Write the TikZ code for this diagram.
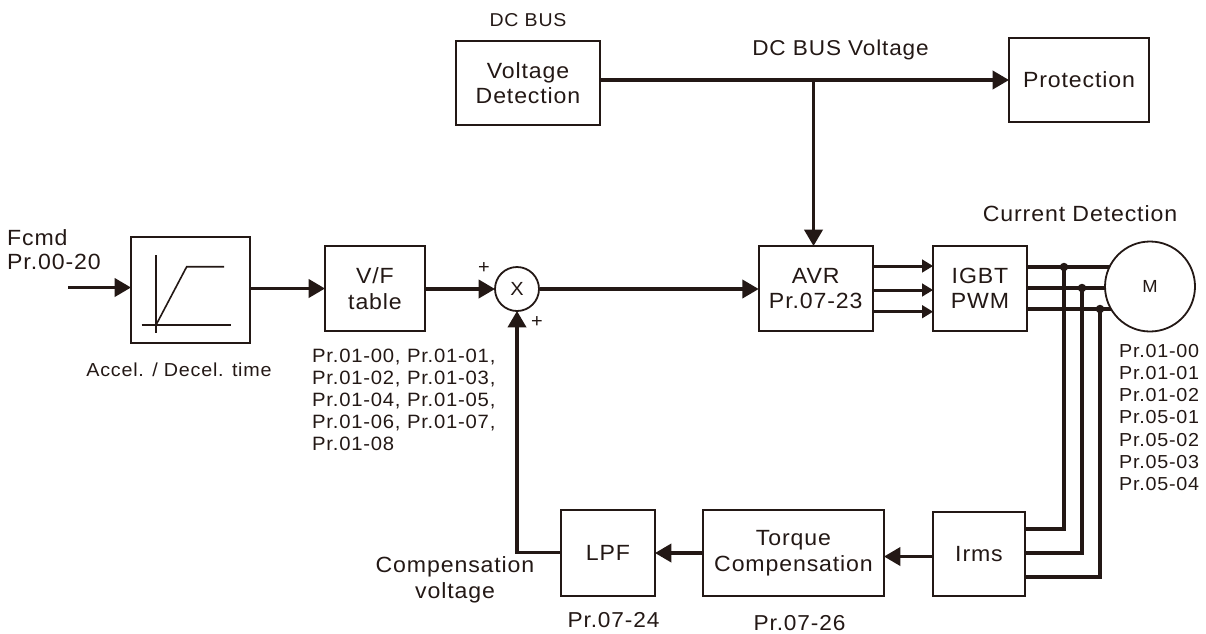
\documentclass[tikz,border=0pt]{standalone}
\usepackage{fontspec}
\setmainfont{Liberation Sans}[LetterSpace=4,FakeStretch=1.05]
\usetikzlibrary{arrows.meta,calc}
\definecolor{ink}{HTML}{231815}
\tikzset{
  blk/.style={draw=ink,line width=1.8pt,fill=white,inner sep=0pt,align=center,font=\fontsize{22}{25.5}\selectfont,text=ink},
  lbl/.style={inner sep=0pt,align=left,text=ink},
  wire/.style={draw=ink,line width=3.9pt},
  thin wire/.style={draw=ink,line width=3pt},
  arr/.style={wire,-{Triangle[length=16.5pt,width=18pt]},shorten >=-1pt},
  thinarr/.style={thin wire,-{Triangle[length=11pt,width=12.5pt]},shorten >=-1pt},
  dot/.style={circle,fill=ink,inner sep=0pt,minimum size=8.5pt},
  ramp/.style={draw=ink,line width=1.6pt}
}
\begin{document}
\begin{tikzpicture}[x=1pt,y=-1pt]
\useasboundingbox (0,0) rectangle (1206,633);
% IGBT to M wires lie under the motor circle
\node[blk,minimum width=94pt,minimum height=85pt] (igbt) at (980,288.5) {IGBT\\PWM};
\coordinate (w1) at (1120,267); \coordinate (w2) at (1120,288); \coordinate (w3) at (1120,309);
\draw[wire,line width=3.6pt] (igbt.east |- w1) -- (w1);
\draw[wire,line width=3.6pt] (igbt.east |- w2) -- (w2);
\draw[wire,line width=3.6pt] (igbt.east |- w3) -- (w3);
% boxes
\node[blk,minimum width=144pt,minimum height=84pt] (vd) at (528,83) {Voltage\\Detection};
\node[blk,minimum width=140pt,minimum height=84pt] (prot) at (1079,80) {Protection};
\node[blk,minimum width=119pt,minimum height=106pt] (ramp) at (190.5,290) {};
\node[blk,minimum width=100pt,minimum height=85pt] (vf) at (375,288.5) {V/F\\table};
\node[blk,circle,minimum size=44pt,font=\fontsize{19}{22}\selectfont] (sum) at (517,289) {X};
\node[blk,minimum width=114pt,minimum height=85pt] (avr) at (815.7,288.5) {AVR\\Pr.07-23};
\node[blk,circle,minimum size=90pt,font=\fontsize{17.5}{20}\selectfont] (m) at (1150,286.5) {M};
\node[blk,minimum width=92pt,minimum height=84pt] (irms) at (979,554) {Irms};
\node[blk,minimum width=181pt,minimum height=86pt] (tc) at (793.5,553) {Torque\\Compensation};
\node[blk,minimum width=94pt,minimum height=86pt] (lpf) at (608,553) {LPF};
% ramp glyph
\coordinate (r1) at (156,255); \coordinate (r2) at (156,333);
\coordinate (r3) at (141.5,325); \coordinate (r4) at (231,325);
\coordinate (r5) at (156,325); \coordinate (r6) at (186.7,266.7); \coordinate (r7) at (224,266.7);
\draw[ramp] (r1) -- (r2);
\draw[ramp] (r3) -- (r4);
\draw[ramp] (r5) -- (r6) -- (r7);
% top connectors
\coordinate (bus) at (813.5,80);
\draw[arr] (vd.east |- bus) -- (prot.west |- bus);
\draw[arr] (bus) -- (bus |- avr.north);
% forward path
\coordinate (fin) at (68,287.5);
\draw[arr] (fin) -- (ramp.west |- fin);
\draw[arr] (ramp.east |- vf) -- (vf.west);
\draw[arr] (vf.east |- sum) -- (sum.west);
\draw[arr] (sum.east) -- (avr.west |- sum);
% AVR to IGBT
\coordinate (p1) at (900,266); \coordinate (p2) at (900,290); \coordinate (p3) at (900,311.7);
\draw[thinarr] (avr.east |- p1) -- (igbt.west |- p1);
\draw[thinarr] (avr.east |- p2) -- (igbt.west |- p2);
\draw[thinarr] (avr.east |- p3) -- (igbt.west |- p3);
% current feedback
\node[dot] (d1) at (1064,267) {};
\node[dot] (d2) at (1082,288) {};
\node[dot] (d3) at (1100,309) {};
\coordinate (c1) at (1064,529); \coordinate (c2) at (1082,553); \coordinate (c3) at (1100,577);
\draw[wire,line width=3.6pt,line join=miter] (d1.center) -- (c1) -- (irms.east |- c1);
\draw[wire,line width=3.6pt,line join=miter] (d2.center) -- (c2) -- (irms.east |- c2);
\draw[wire,line width=3.6pt,line join=miter] (d3.center) -- (c3) -- (irms.east |- c3);
% back path
\coordinate (b1) at (900,556.5);
\draw[arr] (irms.west |- b1) -- (tc.east |- b1);
\draw[arr] (tc.west) -- (lpf.east);
\coordinate (corner) at (517,552.5);
\draw[wire,line join=miter] (lpf.west |- corner) -- (corner) -- ($(sum.south)+(0,18)$);
\draw[arr] ($(sum.south)+(0,20)$) -- (sum.south);
% labels
\node[lbl,font=\fontsize{18.6}{20}\selectfont] (l1) at (528,20) {DC BUS};
\node[lbl,font=\fontsize{21.5}{25}\selectfont] (l2) at (840.5,50) {DC BUS Voltage};
\node[lbl,font=\fontsize{22}{25}\selectfont] (l3) at (1080,214) {Current Detection};
\node[lbl,font=\fontsize{22}{24}\selectfont,anchor=north west] (l4) at (7,229.5) {Fcmd\\Pr.00-20};
\node[lbl,font=\fontsize{18.8}{22}\selectfont] (l5) at (179,370) {Accel. / Decel. time};
\node[lbl,font=\fontsize{19.3}{21.9}\selectfont,anchor=north west] (l6) at (312,349) {Pr.01-00, Pr.01-01,\\Pr.01-02, Pr.01-03,\\Pr.01-04, Pr.01-05,\\Pr.01-06, Pr.01-07,\\Pr.01-08};
\node[lbl,font=\fontsize{18.8}{22.2}\selectfont,anchor=north west] (l7) at (1119,344) {Pr.01-00\\Pr.01-01\\Pr.01-02\\Pr.05-01\\Pr.05-02\\Pr.05-03\\Pr.05-04};
\node[lbl,font=\fontsize{22}{26}\selectfont,align=center] (l8) at (455,580) {Compensation\\voltage};
\node[lbl,font=\fontsize{21.6}{24}\selectfont] (l9) at (613.5,620) {Pr.07-24};
\node[lbl,font=\fontsize{21.6}{24}\selectfont] (l10) at (799.5,623) {Pr.07-26};
\node[lbl,font=\fontsize{19}{20}\selectfont] (p1t) at (484,268) {+};
\node[lbl,font=\fontsize{19}{20}\selectfont] (p2t) at (537,322) {+};
\end{tikzpicture}
\end{document}
